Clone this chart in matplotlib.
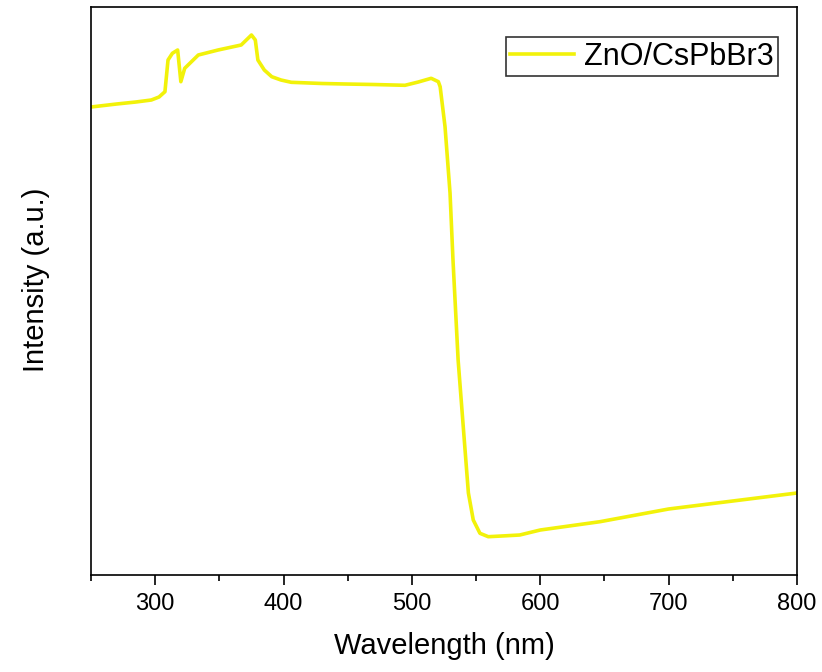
import matplotlib
matplotlib.use("Agg")
import matplotlib.pyplot as plt
from matplotlib.ticker import MultipleLocator, NullLocator

plt.rcParams['font.family'] = ['Liberation Sans', 'DejaVu Sans']

wavelength = [250, 270, 285, 297, 303, 307.6, 310, 313.4, 317.5, 320, 323, 333.6, 349, 367, 375, 378,
              380, 385, 390.8, 398, 406, 430, 448, 470, 494.6, 505, 515, 520.6, 522,
              525.8, 529.7, 532, 536, 540, 544, 547.8, 553, 559.5, 570, 584, 600, 646.5,
              700, 750, 800]
intensity_px = [107, 104, 102, 100, 97, 91.7, 60, 53.3, 50, 81.7, 68.3, 55, 50, 45, 35, 40,
                60, 70, 76.7, 80, 82.3, 83.5, 84, 84.5, 85.3, 82, 78.3, 81.7, 86.7,
                126.7, 193, 260, 360, 426.7, 493, 520, 533.3, 536.7, 536, 535, 530, 521.7,
                509, 501, 493]
intensity = [575 - p for p in intensity_px]

fig = plt.figure(figsize=(8.22, 6.72), dpi=100)
ax = fig.add_axes([91/822, 1 - 575/672, 706/822, 568/672])
ax.plot(wavelength, intensity, color='#f2f20a', lw=2.6, label='ZnO/CsPbBr3')
ax.set_xlim(250, 800)
ax.set_ylim(0, 568)
ax.xaxis.set_major_locator(MultipleLocator(100))
ax.xaxis.set_minor_locator(MultipleLocator(50))
ax.yaxis.set_major_locator(NullLocator())
ax.tick_params(axis='x', which='major', length=7, width=1.2, labelsize=17, direction='out', pad=6)
ax.tick_params(axis='x', which='minor', length=4, width=1.2, direction='out')
for s in ax.spines.values():
    s.set_linewidth(1.2)
ax.set_xlabel('Wavelength (nm)', fontsize=21, labelpad=12)
ax.set_ylabel('Intensity (a.u.)', fontsize=21)
ax.yaxis.set_label_coords(-0.058, 0.52)
leg = ax.legend(loc='upper right', bbox_to_anchor=(0.973, 0.947), borderaxespad=0,
                fontsize=22, frameon=True, fancybox=False, edgecolor='black',
                handlelength=2.1, borderpad=0.15, handletextpad=0.3)
leg.get_frame().set_linewidth(1.2)
fig.savefig('out.png', dpi=100)
